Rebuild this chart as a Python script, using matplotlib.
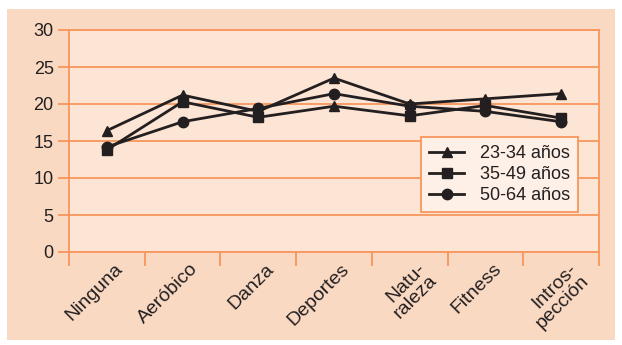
import matplotlib
matplotlib.use("Agg")
import matplotlib.pyplot as plt
from matplotlib.patches import Rectangle
import matplotlib.transforms as mtransforms
import numpy as np

categories = ["Ninguna", "Aeróbico", "Danza", "Deportes", "Natu-\nraleza", "Fitness", "Intros-\npección"]
series_names = ["23-34 años", "35-49 años", "50-64 años"]
v_23_34 = [16.4, 21.2, 19.0, 23.5, 20.0, 20.7, 21.4]
v_35_49 = [13.8, 20.3, 18.2, 19.7, 18.4, 19.8, 18.1]
v_50_64 = [14.2, 17.6, 19.4, 21.4, 19.7, 19.0, 17.6]
yticks = [0, 5, 10, 15, 20, 25, 30]

OUTER = "#FAD9C3"
INNER = "#FDE5D5"
ORANGE = "#F7965C"
INK = "#231F20"
FS = 13

plt.rcParams['font.family'] = ['Liberation Sans', 'DejaVu Sans']

fig = plt.figure(figsize=(6.22, 3.45), dpi=100)
fig.patch.set_facecolor("white")
W, H = 622, 345
bg = Rectangle((7 / W, 1 - 340 / H), (615 - 7) / W, (340 - 9) / H,
               transform=fig.transFigure, facecolor=OUTER, edgecolor="none", zorder=-10)
fig.add_artist(bg)

ax = fig.add_axes([69 / W, 1 - 252 / H, (599 - 69) / W, (252 - 30) / H])
ax.set_facecolor(INNER)
n = len(categories)
x = np.arange(n)
ax.set_xlim(-0.5, n - 0.5)
ax.set_ylim(0, 30)

for y in yticks:
    ax.axhline(y, color=ORANGE, lw=1.3, zorder=1)
for s in ax.spines.values():
    s.set_color(ORANGE)
    s.set_linewidth(1.3)

ax.set_yticks(yticks)
ax.set_yticklabels([str(v) for v in yticks], fontsize=FS, color=INK)
ax.tick_params(axis='y', length=8, width=1.3, color=ORANGE, pad=3)

ax.set_xticks(np.arange(-0.5, n, 1.0))
ax.set_xticklabels([])
ax.tick_params(axis='x', length=10, width=1.3, color=ORANGE)
ax.set_xticks(x, minor=True)
ax.set_xticklabels(categories, minor=True, rotation=45, ha='right', va='top',
                   rotation_mode='anchor', fontsize=14, color=INK, linespacing=1.0)
ax.tick_params(axis='x', which='minor', length=0, pad=6)
offset = mtransforms.ScaledTranslation(7 / 100, 0, fig.dpi_scale_trans)
for lbl in ax.get_xticklabels(minor=True):
    lbl.set_transform(lbl.get_transform() + offset)

lw = 2.0
ms = 7.5
ax.plot(x, v_23_34, color=INK, lw=lw, marker='^', ms=ms, zorder=3, label=series_names[0])
ax.plot(x, v_35_49, color=INK, lw=lw, marker='s', ms=ms - 0.5, zorder=3,
        markevery=[0, 1, 2, 4, 5, 6], label=series_names[1])
ax.plot(x[3:4], v_35_49[3:4], color=INK, ls='none', marker='^', ms=ms, zorder=3)
ax.plot(x, v_50_64, color=INK, lw=lw, marker='o', ms=ms, zorder=3, label=series_names[2])

leg = ax.legend(loc='upper left', bbox_to_anchor=((421 - 69) / 530, (252 - 137) / 222),
                frameon=True, fancybox=False, fontsize=FS, handlelength=1.95,
                handletextpad=0.85, borderpad=0.45, labelspacing=0.22,
                borderaxespad=0)
leg.get_frame().set_facecolor("#FEF0E7")
leg.get_frame().set_edgecolor(ORANGE)
leg.get_frame().set_linewidth(1.3)
leg.get_frame().set_alpha(1)
for t in leg.get_texts():
    t.set_color(INK)

fig.savefig("out.png", dpi=100)
